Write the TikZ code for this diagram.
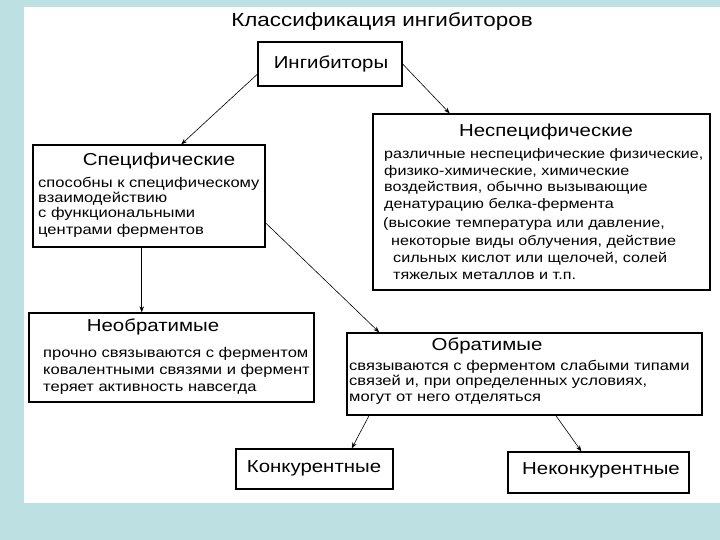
\documentclass[tikz,border=0pt]{standalone}
\usepackage{fontspec}
\setmainfont[FakeStretch=1.18]{Liberation Sans}
\usetikzlibrary{arrows.meta}
\definecolor{bgblue}{RGB}{189,224,227}
\tikzset{
  box/.style={draw=black, line width=1.3pt, fill=white, inner sep=0pt},
  head/.style={font=\fontsize{17.3}{20}\selectfont, inner sep=0pt},
  body/.style={font=\fontsize{14}{16}\selectfont, inner sep=0pt, anchor=base west},
  nbody/.style={body, font=\fontsize{13.7}{16}\selectfont},
  arr/.style={-{Stealth[length=6pt,width=4.5pt]}, line width=0.6pt},
}
\begin{document}
\begin{tikzpicture}[x=1pt,y=-1pt]
\fill[bgblue] (0,0) rectangle (720,540);
\fill[white] (24,7) rectangle (720,503);
\useasboundingbox (0,0) rectangle (720,540);

\node[font=\fontsize{19}{22}\selectfont, inner sep=0pt] (title) at (382,22) {Классификация ингибиторов};

% boxes
\node[box, minimum width=144pt, minimum height=44pt] (ing) at (330,64) {};
\node[box, minimum width=232pt, minimum height=102pt] (spec) at (149,196) {};
\node[box, minimum width=337pt, minimum height=176pt] (nonspec) at (541.5,202) {};
\node[box, minimum width=285pt, minimum height=89pt] (irr) at (171.5,357.5) {};
\node[box, minimum width=355pt, minimum height=82pt] (rev) at (524.5,374) {};
\node[box, minimum width=157pt, minimum height=40pt] (comp) at (314.5,469) {};
\node[box, minimum width=181pt, minimum height=41pt] (noncomp) at (598.5,472.5) {};

% headings
\node[head] (ingt) at (331,64) {Ингибиторы};
\node[head] (spech) at (159,161) {Специфические};
\node[head] (nonspech) at (546,132) {Неспецифические};
\node[head] (irrh) at (153,327) {Необратимые};
\node[head] (revh) at (487,346) {Обратимые};
\node[head] (compt) at (314,468) {Конкурентные};
\node[head] (noncompt) at (601,470) {Неконкурентные};

% body: specific
\node[body] (sb1) at (38,188) {способны к специфическому};
\node[body] (sb2) at (38,203) {взаимодействию};
\node[body] (sb3) at (38,218) {с функциональными};
\node[body] (sb4) at (38,234) {центрами ферментов};

% body: nonspecific
\node[nbody] (nb1) at (384,159) {различные неспецифические физические,};
\node[nbody] (nb2) at (384,176) {физико-химические, химические};
\node[nbody] (nb3) at (384,192) {воздействия, обычно вызывающие};
\node[nbody] (nb4) at (384,209) {денатурацию белка-фермента};
\node[nbody] (nb5) at (383,227) {(высокие температура или давление,};
\node[nbody] (nb6) at (391,245) {некоторые виды облучения, действие};
\node[nbody] (nb7) at (393,262) {сильных кислот или щелочей, солей};
\node[nbody] (nb8) at (393,279) {тяжелых металлов и т.п.};

% body: irreversible
\node[body] (ib1) at (43,357) {прочно связываются с ферментом};
\node[body] (ib2) at (43,374) {ковалентными связями и фермент};
\node[body] (ib3) at (43,391) {теряет активность навсегда};

% body: reversible
\node[body] (rb1) at (349,370) {связываются с ферментом слабыми типами};
\node[body] (rb2) at (349,385) {связей и, при определенных условиях,};
\node[body] (rb3) at (349,401) {могут от него отделяться};

% connectors
\draw[arr] (ing.188) -- (spec.58);
\draw[arr] (ing.east) -- (nonspec.136);
\draw[arr] (spec.262) -- (spec.262 |- irr.north);
\draw[arr] (spec.347) -- (rev.164);
\draw[arr] (rev.195) -- (comp.29);
\draw[arr] (rev.307) -- (noncomp.129);
\end{tikzpicture}
\end{document}
